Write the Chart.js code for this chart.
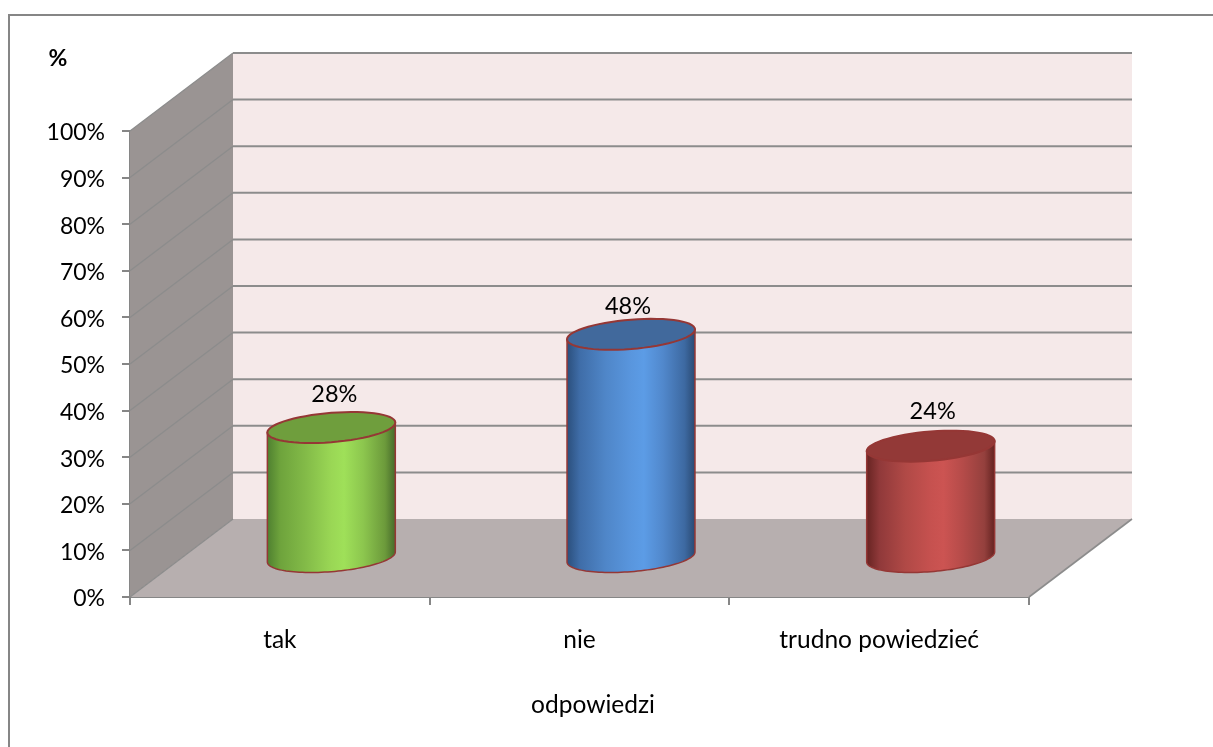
<!DOCTYPE html>
<html><head><meta charset="utf-8">
<style>html,body{margin:0;padding:0;background:#fff}canvas{display:block}</style>
<script src="https://cdn.jsdelivr.net/npm/chart.js@4"></script>
</head><body>
<div style="width:1213px;height:747px"><canvas id="c" width="1213" height="747"></canvas></div>
<script>
const categories = ['tak', 'nie', 'trudno powiedzieć'];
const values = [28, 48, 24];
const valueLabels = ['28%', '48%', '24%'];
const yTitle = '%';
const xTitle = 'odpowiedzi';

const FONT = 'Lato, Carlito, Calibri, sans-serif';
const FS_X = 24.5, FS_Y = 23, FS_V = 23.5;
const DX = 103, DY = 78;      // depth of the 3D box
const EH = 15.5, ETILT = 5;   // cylinder end ellipse
const AXIS = '#868686';
const labelNudge = [[3, -33], [-3, -28], [2, -35]];
const palettes = [
  {top:'#6f9e3d', stops:[[0,'#4f8030'],[.1,'#6ea33c'],[.3,'#83bb48'],[.5,'#9ad755'],[.6,'#9fe059'],[.75,'#8cc64e'],[.92,'#6c9a3b'],[1,'#476b2b']]},
  {top:'#41699c', stops:[[0,'#2b4f7c'],[.1,'#3f6da8'],[.3,'#4f86c8'],[.5,'#5996de'],[.6,'#5c9ce6'],[.75,'#5188cc'],[.92,'#3d69a1'],[1,'#2a4a73']]},
  {top:'#933937', stops:[[0,'#672422'],[.1,'#90393a'],[.3,'#b04946'],[.5,'#c6514f'],[.6,'#cc5452'],[.75,'#b54b49'],[.92,'#94403d'],[1,'#652321']]}
];
const OUTLINE = '#953735';

function ellipsePts(cx, cy, rx, t0, t1) {
  const pts = [], n = 60;
  for (let i = 0; i <= n; i++) {
    const t = t0 + (t1 - t0) * i / n;
    pts.push([cx + rx * Math.cos(t), cy - ETILT * Math.cos(t) + Math.sqrt(EH*EH - ETILT*ETILT) * Math.sin(t)]);
  }
  return pts;
}

const box3d = {
  id: 'box3d',
  beforeDatasetsDraw(chart) {
    const {ctx, scales:{x, y}} = chart;
    const l = x.left, r = x.right, y0 = y.getPixelForValue(0), y1 = y.getPixelForValue(100);
    ctx.save();
    // outer frame
    ctx.strokeStyle = AXIS; ctx.lineWidth = 2;
    ctx.beginPath(); ctx.moveTo(9, 747); ctx.lineTo(9, 15); ctx.lineTo(1213, 15); ctx.stroke();
    // back wall
    ctx.fillStyle = '#f5e9e9';
    ctx.fillRect(l + DX, y1 - DY, r - l, y0 - y1);
    // side wall
    ctx.fillStyle = '#9a9493';
    ctx.beginPath(); ctx.moveTo(l, y1); ctx.lineTo(l + DX, y1 - DY); ctx.lineTo(l + DX, y0 - DY); ctx.lineTo(l, y0); ctx.closePath(); ctx.fill();
    // floor
    ctx.fillStyle = '#b7afaf';
    ctx.beginPath(); ctx.moveTo(l, y0); ctx.lineTo(l + DX, y0 - DY); ctx.lineTo(r + DX, y0 - DY); ctx.lineTo(r, y0); ctx.closePath(); ctx.fill();
    // gridlines
    ctx.strokeStyle = '#8c8c8c';
    y.ticks.forEach(t => {
      const py = y.getPixelForValue(t.value);
      ctx.lineWidth = 1.3;
      ctx.beginPath(); ctx.moveTo(l, py); ctx.lineTo(l + DX, py - DY); ctx.stroke();
      if (t.value > 0) {
        ctx.lineWidth = 2;
        ctx.beginPath(); ctx.moveTo(l + DX, py - DY); ctx.lineTo(r + DX, py - DY); ctx.stroke();
      }
    });
    ctx.lineWidth = 1.6;
    ctx.beginPath(); ctx.moveTo(r, y0); ctx.lineTo(r + DX, y0 - DY); ctx.stroke();
    ctx.restore();
  },
  afterDatasetsDraw(chart) {
    const {ctx} = chart;
    const meta = chart.getDatasetMeta(0);
    ctx.save();
    meta.data.forEach((bar, i) => {
      const cx = bar.x + DX / 2, rx = bar.width / 2;
      const top = bar.y - DY / 2, base = bar.base - DY / 2;
      const p = palettes[i];
      const g = ctx.createLinearGradient(cx - rx, 0, cx + rx, 0);
      p.stops.forEach(s => g.addColorStop(s[0], s[1]));
      // body
      const lower = ellipsePts(cx, base, rx, Math.PI, 0);
      const path = new Path2D();
      path.moveTo(cx - rx, top + ETILT);
      lower.forEach(q => path.lineTo(q[0], q[1]));
      path.lineTo(cx + rx, top - ETILT);
      path.closePath();
      ctx.fillStyle = g; ctx.fill(path);
      ctx.strokeStyle = OUTLINE; ctx.lineWidth = 1.5; ctx.stroke(path);
      // top end
      const upper = ellipsePts(cx, top, rx, 0, Math.PI * 2);
      const tp = new Path2D();
      upper.forEach((q, k) => k ? tp.lineTo(q[0], q[1]) : tp.moveTo(q[0], q[1]));
      tp.closePath();
      ctx.fillStyle = p.top; ctx.fill(tp);
      ctx.lineWidth = 2; ctx.stroke(tp);
      // value label
      ctx.fillStyle = '#000'; ctx.font = FS_V + 'px ' + FONT;
      ctx.textAlign = 'center'; ctx.textBaseline = 'middle';
      ctx.fillText(valueLabels[i], cx + labelNudge[i][0], top + labelNudge[i][1]);
    });
    // axis titles
    ctx.fillStyle = '#000';
    ctx.textAlign = 'center'; ctx.textBaseline = 'middle';
    ctx.font = FS_X + 'px ' + FONT;
    ctx.fillText(xTitle, 593, 705);
    ctx.font = 'bold ' + FS_Y + 'px ' + FONT;
    ctx.fillText(yTitle, 58, 59);
    ctx.restore();
  }
};

new Chart(document.getElementById('c'), {
  type: 'bar',
  data: {
    labels: categories,
    datasets: [{ data: values, backgroundColor: 'rgba(0,0,0,0)', borderWidth: 0, categoryPercentage: 1, barPercentage: 0.427 }]
  },
  plugins: [box3d],
  options: {
    responsive: false, animation: false,
    layout: { padding: { top: 131, right: 184, left: 0, bottom: 0 } },
    plugins: { legend: { display: false }, tooltip: { enabled: false }, title: { display: false } },
    scales: {
      x: {
        afterFit(s) { s.height = 150; },
        offset: true,
        border: { color: AXIS, width: 2 },
        grid: { drawOnChartArea: false, color: AXIS, lineWidth: 2, tickLength: 8, offset: true },
        ticks: { color: '#000', font: { family: FONT, size: FS_X }, padding: 20, maxRotation: 0 }
      },
      y: {
        afterFit(s) { s.width = 130; },
        min: 0, max: 100,
        border: { color: AXIS, width: 2 },
        grid: { drawOnChartArea: false, color: AXIS, lineWidth: 2, tickLength: 8 },
        ticks: { stepSize: 10, color: '#000', font: { family: FONT, size: FS_Y }, padding: 17, labelOffset: 2, callback: v => v + '%' }
      }
    }
  }
});
</script>
</body></html>
